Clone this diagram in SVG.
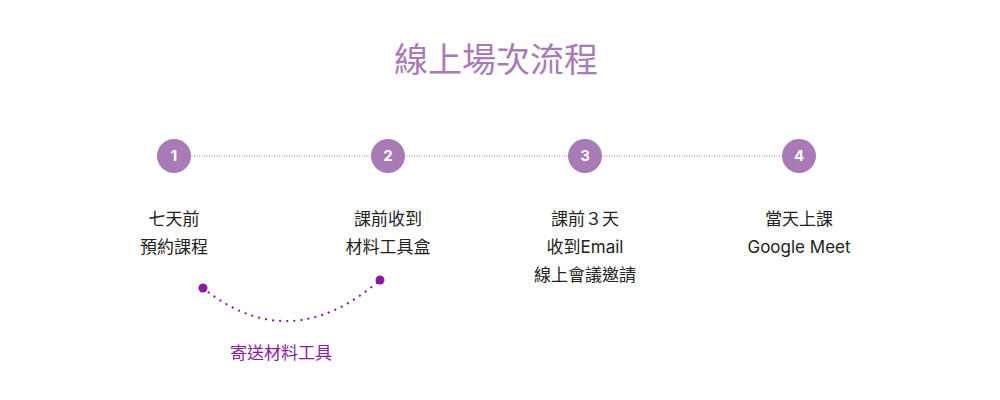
<svg xmlns="http://www.w3.org/2000/svg" width="1000" height="400" viewBox="0 0 1000 400">
<style>
text{font-family:"Inter","Noto Sans CJK TC",sans-serif}
.t{font-size:17px;fill:#222;text-anchor:middle}
.n{font-size:15px;fill:#fff;font-weight:bold;text-anchor:middle}
.c{fill:#a97bb6}
</style>
<rect width="1000" height="400" fill="#fff"/>
<text x="496" y="72" font-size="34" fill="#a97bb6" text-anchor="middle">線上場次流程</text>
<g id="connectors">
<line x1="174" y1="156" x2="799" y2="156" stroke="#a97bb6" stroke-width="1" stroke-dasharray="1 1.5"/>
<path d="M203,288 Q290,358 380,280" fill="none" stroke="#8a1a9c" stroke-width="2.2" stroke-dasharray="0.1 7" stroke-linecap="round"/>
<circle cx="203" cy="288" r="4.5" fill="#8a1a9c"/>
<circle cx="380" cy="280" r="4.5" fill="#8a1a9c"/>
<text x="281" y="359" font-size="17" fill="#8a1a9c" text-anchor="middle">寄送材料工具</text>
</g>
<g id="n1"><circle class="c" cx="174" cy="156" r="17"/><text class="n" x="174" y="161">1</text><text class="t" x="174" y="225">七天前</text><text class="t" x="174" y="253">預約課程</text></g>
<g id="n2"><circle class="c" cx="388" cy="156" r="17"/><text class="n" x="388" y="161">2</text><text class="t" x="388" y="225">課前收到</text><text class="t" x="388" y="253">材料工具盒</text></g>
<g id="n3"><circle class="c" cx="585" cy="156" r="17"/><text class="n" x="585" y="161">3</text><text class="t" x="585" y="225">課前３天</text><text class="t" x="585" y="253">收到Email</text><text class="t" x="585" y="281">線上會議邀請</text></g>
<g id="n4"><circle class="c" cx="799" cy="156" r="17"/><text class="n" x="799" y="161">4</text><text class="t" x="799" y="225">當天上課</text><text class="t" x="799" y="253">Google Meet</text></g>
</svg>
